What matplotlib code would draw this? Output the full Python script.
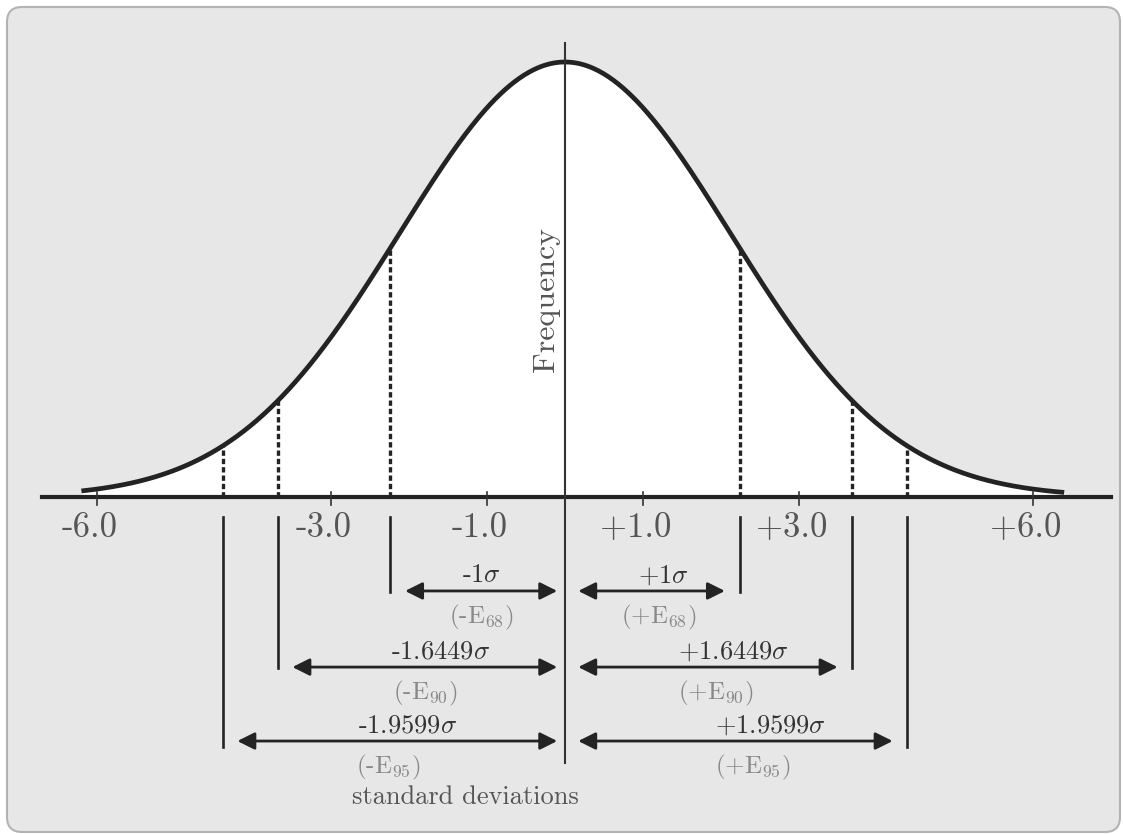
import numpy as np
import matplotlib
matplotlib.use("Agg")
import matplotlib.pyplot as plt
from matplotlib.patches import FancyBboxPatch

plt.rcParams['font.family'] = 'serif'
plt.rcParams['font.serif'] = ['cmr10', 'DejaVu Serif']
plt.rcParams['mathtext.fontset'] = 'cm'
plt.rcParams['axes.formatter.use_mathtext'] = True

# Data
curve_sd = 2.12             # spread of the drawn frequency curve (axis units)
sigma = 2.24                # one standard deviation in axis units
multipliers = [1.0, 1.6449, 1.9599]
conf = ['68', '90', '95']
tick_vals = [-6, -3, -1, 1, 3, 6]
tick_labels = ['-6.0', '-3.0', '-1.0', '+1.0', '+3.0', '+6.0']
curve_range = (-6.2, 6.4)

# label offsets from arrow midpoints (axis units)
sig_off_left = [0.0, 0.2, 0.13]
sig_off_right = [0.15, 0.33, 0.45]
e_off_left = [0.0, 0.0, -0.12]
e_off_right = [0.09, 0.1, 0.22]

dark = '#232323'

fig = plt.figure(figsize=(11.23, 8.34), dpi=100)
fig.patch.set_facecolor('white')
panel = FancyBboxPatch((0.07, 0.02), 11.13, 8.25,
                       boxstyle="round,pad=0,rounding_size=0.15",
                       transform=fig.dpi_scale_trans,
                       facecolor='#e7e7e7', edgecolor='#b3b3b3', lw=1.5, zorder=-10)
fig.patches.append(panel)

ax = fig.add_axes([0, 0, 1, 1])
ax.set_facecolor('none')
ax.set_xlim(-565 / 78, (1123 - 565) / 78)
ax.set_ylim((497 - 834) / 435, 497 / 435)
ax.axis('off')


def freq(x):
    return np.exp(-0.5 * (x / curve_sd) ** 2)


x = np.linspace(curve_range[0], curve_range[1], 600)
y = freq(x)
ax.fill_between(x, 0, y, color='white', zorder=1)
ax.plot(x, y, color=dark, lw=3.4, solid_capstyle='butt', zorder=4)

# horizontal axis with ticks
ax.plot([-6.7, 7.0], [0, 0], color=dark, lw=3.0, zorder=5)
for t, lab in zip(tick_vals, tick_labels):
    ax.plot([t, t], [0.012, -0.018], color='#333333', lw=1.2, zorder=5)
    ax.text(t - 0.1, -0.072, lab, ha='center', va='center',
            fontsize=25, color='#555555')

# center vertical line
ax.plot([0, 0], [1.044, -0.611], color='#333333', lw=1.5, zorder=6)
ax.text(-0.24, 0.455, 'Frequency', rotation=90, ha='center', va='center',
        fontsize=23, color='#555555', zorder=6)

arrow_y = [-0.216, -0.391, -0.561]
line_bottom = [-0.218, -0.393, -0.575]

for i, m in enumerate(multipliers):
    pos = m * sigma
    for side in (-1, 1):
        xp = side * pos
        # dashed marker up to the curve
        ax.plot([xp, xp], [0, freq(xp)], color=dark, lw=2.4,
                dashes=(1.6, 0.9), zorder=3)
        # solid marker below the axis
        ax.plot([xp, xp], [-0.046, line_bottom[i]], color=dark, lw=1.9, zorder=3)

    # arrows
    inner, outer = 0.1, 0.19
    ay = arrow_y[i]
    ax.annotate('', xy=(-inner, ay), xytext=(-pos + outer, ay),
                arrowprops=dict(arrowstyle='<|-|>', color=dark, lw=2.0,
                                mutation_scale=26, shrinkA=0, shrinkB=0))
    ax.annotate('', xy=(pos - outer, ay), xytext=(inner + 0.07, ay),
                arrowprops=dict(arrowstyle='<|-|>', color=dark, lw=2.0,
                                mutation_scale=26, shrinkA=0, shrinkB=0))

    mid_l = (-inner - pos + outer) / 2
    mid_r = (pos - outer + inner + 0.07) / 2
    mtxt = '1' if m == 1.0 else f'{m:.4f}'
    ax.text(mid_l + sig_off_left[i], ay + 0.036, '-' + mtxt + r'$\sigma$',
            ha='center', va='center', fontsize=19, color='#333333')
    ax.text(mid_r + sig_off_right[i], ay + 0.036, '+' + mtxt + r'$\sigma$',
            ha='center', va='center', fontsize=19, color='#333333')
    ax.text(mid_l + e_off_left[i], ay - 0.06, '(-E$_{' + conf[i] + '}$)',
            ha='center', va='center', fontsize=18, color='#888888')
    ax.text(mid_r + e_off_right[i], ay - 0.06, '(+E$_{' + conf[i] + '}$)',
            ha='center', va='center', fontsize=18, color='#888888')

ax.text((465 - 565) / 78, (497 - 797) / 435, 'standard deviations',
        ha='center', va='center', fontsize=19, color='#555555')

fig.savefig('out.png', dpi=100, facecolor='white')
